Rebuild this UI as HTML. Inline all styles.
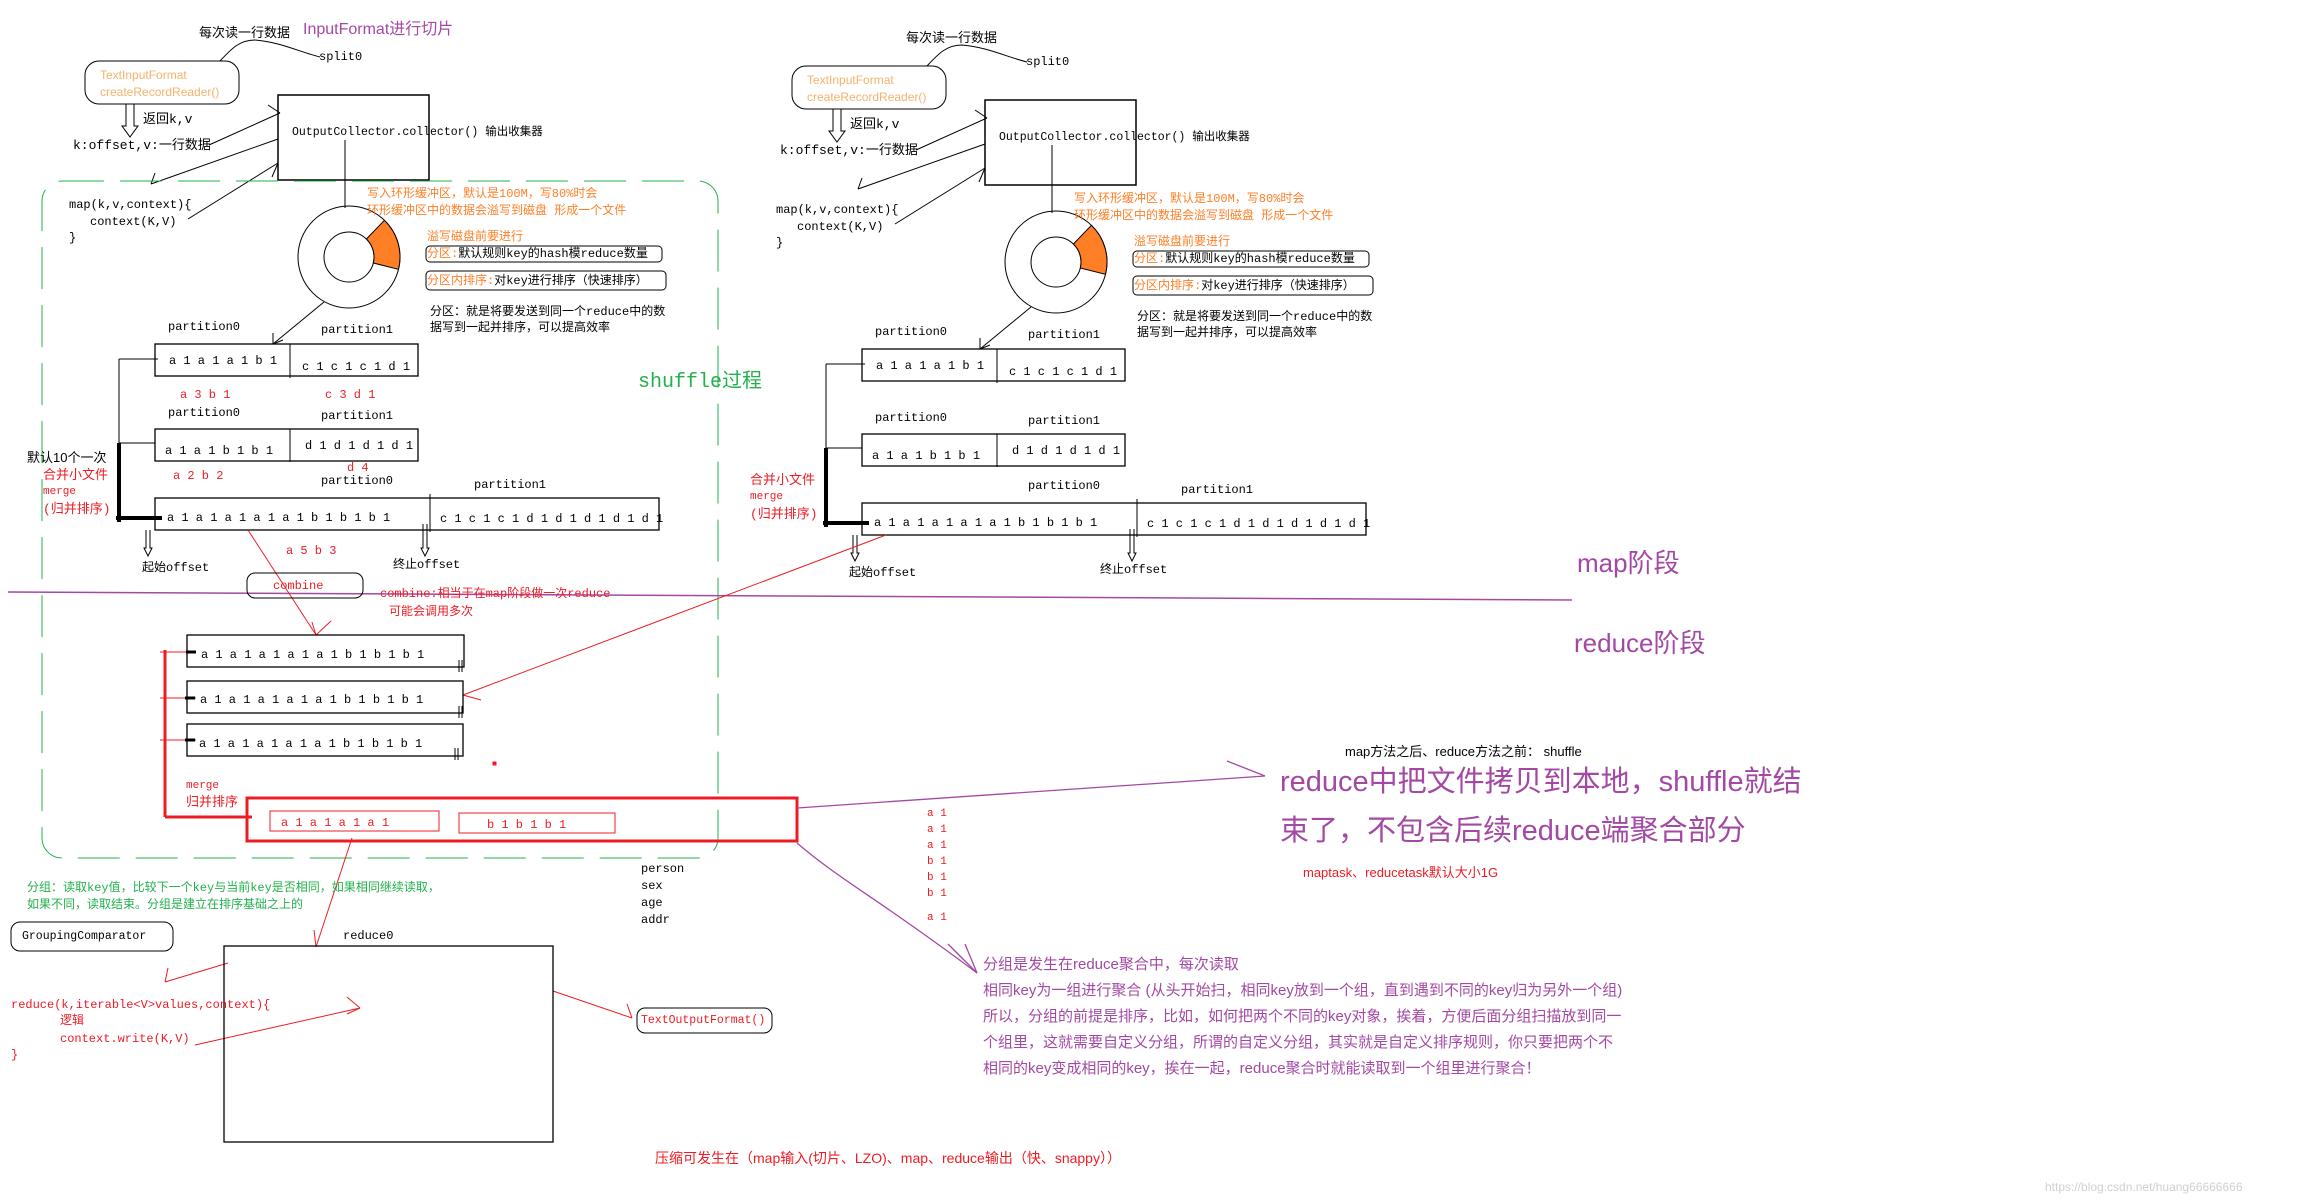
<!DOCTYPE html>
<html><head><meta charset="utf-8"><style>
body{margin:0;width:2310px;height:1200px;background:#fff;position:relative;overflow:hidden}
.t{position:absolute;white-space:nowrap;font:13px "Liberation Mono","Noto Sans CJK SC",monospace;line-height:1;color:#000}
.m{font-size:12px}
.r{color:#ed1c24}.o{color:#ff7f27}.p{color:#a349a4}.g{color:#22b14c}
.s{font-family:"Liberation Sans","Noto Sans CJK SC",sans-serif}
.cp{position:absolute;left:0;top:0;width:760px;height:600px}
svg{position:absolute;left:0;top:0}
</style></head><body>
<svg width="2310" height="1200" viewBox="0 0 2310 1200" fill="none" stroke="#000" stroke-width="1">
<defs>
<g id="sh">
<path d="M220 61 C232 48 240 40 255 40 C280 42 300 52 320 57"/>
<rect x="85" y="61" width="154" height="43" rx="14"/>
<path d="M126 104 V126 H122 L130 137 L138 126 H134 V104"/>
<line x1="209" y1="145" x2="280" y2="113"/><line x1="268" y1="105" x2="280" y2="113"/>
<line x1="278" y1="139" x2="151" y2="184"/><line x1="155" y1="173" x2="151" y2="184"/>
<line x1="188" y1="219" x2="278" y2="163"/><line x1="272" y1="177" x2="278" y2="163"/>
<rect x="278" y="95" width="151" height="85" stroke-width="1.5"/>
<line x1="345" y1="140" x2="345" y2="208"/>
<circle cx="349" cy="257" r="51"/><circle cx="349" cy="257" r="25"/>
<path d="M384.4 220.3 A51 51 0 0 1 398.5 269.3 L373.3 263 A25 25 0 0 0 366.4 239 Z" fill="#ff7f27"/>
<rect x="426" y="246" width="236" height="16" rx="4"/>
<rect x="426" y="271" width="240" height="19" rx="4"/>
<line x1="324" y1="302" x2="273" y2="344"/><line x1="273" y1="344" x2="273" y2="333"/><line x1="273" y1="344" x2="283" y2="340"/>
<rect x="155" y="344" width="263" height="32" stroke-width="1.3"/><line x1="290" y1="344" x2="290" y2="378"/>
<rect x="155" y="429" width="263" height="32" stroke-width="1.3"/><line x1="290" y1="429" x2="290" y2="462"/>
<rect x="155" y="498" width="504" height="32" stroke-width="1.3"/><line x1="430" y1="494" x2="430" y2="532"/>
<line x1="119" y1="359" x2="119" y2="445"/><line x1="119" y1="359" x2="158" y2="359"/><line x1="119" y1="443" x2="155" y2="443"/>
<line x1="119" y1="443" x2="119" y2="522" stroke-width="4"/><line x1="116" y1="518" x2="162" y2="518" stroke-width="4"/>
<path d="M146 530 V548 H144 L148 556 L152 548 H150 V530"/>
<path d="M423 524 V548 H421 L425 556 L429 548 H427 V524"/>
</g>
</defs>
<use href="#sh"/>
<use href="#sh" transform="translate(707,5)"/>
<rect x="42" y="181" width="676" height="677" rx="20" stroke="#22b14c" stroke-dasharray="42 16"/>
<line x1="8" y1="592" x2="1572" y2="600" stroke="#a349a4" stroke-width="1.5"/>
<g stroke="#ed1c24">
<line x1="248" y1="530" x2="316" y2="635"/><line x1="316" y1="635" x2="331" y2="621"/><line x1="316" y1="635" x2="312" y2="622"/>
<line x1="886" y1="535" x2="463" y2="695"/><line x1="463" y1="695" x2="481" y2="700"/>
<line x1="165" y1="650" x2="165" y2="817" stroke-width="3"/>
<line x1="160" y1="652" x2="196" y2="652"/><line x1="160" y1="698" x2="196" y2="698"/><line x1="160" y1="740" x2="196" y2="740"/>
<line x1="165" y1="817" x2="252" y2="817" stroke-width="3"/>
<rect x="247" y="798" width="550" height="43" stroke-width="3"/>
<rect x="270" y="811" width="169" height="20"/><rect x="459" y="813" width="156" height="20"/>
<line x1="352" y1="838" x2="316" y2="947"/><line x1="316" y1="947" x2="314" y2="930"/>
<line x1="228" y1="963" x2="165" y2="982"/><line x1="165" y1="982" x2="168" y2="968"/>
<line x1="195" y1="1045" x2="360" y2="1008"/><line x1="360" y1="1008" x2="347" y2="997"/><line x1="360" y1="1008" x2="347" y2="1014"/>
<line x1="553" y1="991" x2="632" y2="1018"/><line x1="632" y1="1018" x2="627" y2="1004"/>
<rect x="493" y="762" width="3" height="3" fill="#ed1c24"/>
</g>
<rect x="187" y="635" width="277" height="32" stroke-width="1.3"/>
<rect x="187" y="681" width="276" height="32" stroke-width="1.3"/>
<rect x="187" y="724" width="276" height="32" stroke-width="1.3"/>
<g stroke-width="3"><line x1="186" y1="652" x2="196" y2="652"/><line x1="185" y1="698" x2="195" y2="698"/><line x1="185" y1="740" x2="195" y2="740"/></g>
<path d="M459 660 V672 M462 660 V672 M459 706 V718 M462 706 V718 M455 748 V760 M458 748 V760"/>
<rect x="247" y="573" width="116" height="25" rx="8"/>
<rect x="11" y="922" width="162" height="29" rx="9"/>
<rect x="224" y="946" width="329" height="196" stroke-width="1.3"/>
<rect x="637" y="1008" width="135" height="25" rx="8"/>
<g stroke="#a349a4" stroke-width="1.3">
<line x1="797" y1="808" x2="1265" y2="776"/><line x1="1227" y1="761" x2="1265" y2="776"/>
<path d="M797 843 C840 880 880 900 977 973"/><line x1="948" y1="944" x2="977" y2="973"/><line x1="965" y1="944" x2="977" y2="973"/>
</g>
</svg>

<div class="cp">
<div class="t s" style="left:199px;top:26px">每次读一行数据</div>
<div class="t m" style="left:319px;top:51px">split0</div>
<div class="t s m" style="left:100px;top:69px;color:#f5b26b">TextInputFormat</div>
<div class="t s m" style="left:100px;top:86px;color:#f5b26b">createRecordReader()</div>
<div class="t" style="left:143px;top:113px">返回k,v</div>
<div class="t" style="left:73px;top:139px">k:offset,v:一行数据</div>
<div class="t" style="left:292px;top:127px;font-size:11.5px">OutputCollector.collector()  输出收集器</div>
<div class="t m" style="left:69px;top:199px">map(k,v,context){</div>
<div class="t m" style="left:90px;top:216px">context(K,V)</div>
<div class="t m" style="left:69px;top:232px">}</div>
<div class="t o m" style="left:367px;top:188px">写入环形缓冲区，默认是100M，写80%时会</div>
<div class="t o m" style="left:367px;top:205px">环形缓冲区中的数据会溢写到磁盘 形成一个文件</div>
<div class="t o m" style="left:427px;top:231px">溢写磁盘前要进行</div>
<div class="t m" style="left:427px;top:248px"><span class="o">分区:</span>默认规则key的hash模reduce数量</div>
<div class="t m" style="left:427px;top:275px"><span class="o">分区内排序:</span>对key进行排序（快速排序）</div>
<div class="t m" style="left:430px;top:306px">分区：就是将要发送到同一个reduce中的数</div>
<div class="t m" style="left:430px;top:322px">据写到一起并排序，可以提高效率</div>
<div class="t m" style="left:168px;top:321px">partition0</div>
<div class="t m" style="left:321px;top:324px">partition1</div>
<div class="t m" style="left:169px;top:355px">a 1 a 1 a 1 b 1</div>
<div class="t m" style="left:302px;top:361px">c 1 c 1 c 1 d 1</div>
<div class="t m" style="left:168px;top:407px">partition0</div>
<div class="t m" style="left:321px;top:410px">partition1</div>
<div class="t m" style="left:165px;top:445px">a 1 a 1 b 1 b 1</div>
<div class="t m" style="left:305px;top:440px">d 1 d 1 d 1 d 1</div>
<div class="t m" style="left:321px;top:475px">partition0</div>
<div class="t m" style="left:474px;top:479px">partition1</div>
<div class="t m" style="left:167px;top:512px">a 1 a 1 a 1 a 1 a 1 b 1 b 1 b 1</div>
<div class="t m" style="left:440px;top:513px">c 1 c 1 c 1 d 1 d 1 d 1 d 1 d 1</div>
<div class="t r" style="left:43px;top:469px">合并小文件</div>
<div class="t r" style="left:43px;top:487px;font-size:11px">merge</div>
<div class="t r" style="left:43px;top:503px">(归并排序)</div>
<div class="t m" style="left:142px;top:562px">起始offset</div>
<div class="t m" style="left:393px;top:559px">终止offset</div>
</div>
<div class="cp" style="left:707px;top:5px">
<div class="t s" style="left:199px;top:26px">每次读一行数据</div>
<div class="t m" style="left:319px;top:51px">split0</div>
<div class="t s m" style="left:100px;top:69px;color:#f5b26b">TextInputFormat</div>
<div class="t s m" style="left:100px;top:86px;color:#f5b26b">createRecordReader()</div>
<div class="t" style="left:143px;top:113px">返回k,v</div>
<div class="t" style="left:73px;top:139px">k:offset,v:一行数据</div>
<div class="t" style="left:292px;top:127px;font-size:11.5px">OutputCollector.collector()  输出收集器</div>
<div class="t m" style="left:69px;top:199px">map(k,v,context){</div>
<div class="t m" style="left:90px;top:216px">context(K,V)</div>
<div class="t m" style="left:69px;top:232px">}</div>
<div class="t o m" style="left:367px;top:188px">写入环形缓冲区，默认是100M，写80%时会</div>
<div class="t o m" style="left:367px;top:205px">环形缓冲区中的数据会溢写到磁盘 形成一个文件</div>
<div class="t o m" style="left:427px;top:231px">溢写磁盘前要进行</div>
<div class="t m" style="left:427px;top:248px"><span class="o">分区:</span>默认规则key的hash模reduce数量</div>
<div class="t m" style="left:427px;top:275px"><span class="o">分区内排序:</span>对key进行排序（快速排序）</div>
<div class="t m" style="left:430px;top:306px">分区：就是将要发送到同一个reduce中的数</div>
<div class="t m" style="left:430px;top:322px">据写到一起并排序，可以提高效率</div>
<div class="t m" style="left:168px;top:321px">partition0</div>
<div class="t m" style="left:321px;top:324px">partition1</div>
<div class="t m" style="left:169px;top:355px">a 1 a 1 a 1 b 1</div>
<div class="t m" style="left:302px;top:361px">c 1 c 1 c 1 d 1</div>
<div class="t m" style="left:168px;top:407px">partition0</div>
<div class="t m" style="left:321px;top:410px">partition1</div>
<div class="t m" style="left:165px;top:445px">a 1 a 1 b 1 b 1</div>
<div class="t m" style="left:305px;top:440px">d 1 d 1 d 1 d 1</div>
<div class="t m" style="left:321px;top:475px">partition0</div>
<div class="t m" style="left:474px;top:479px">partition1</div>
<div class="t m" style="left:167px;top:512px">a 1 a 1 a 1 a 1 a 1 b 1 b 1 b 1</div>
<div class="t m" style="left:440px;top:513px">c 1 c 1 c 1 d 1 d 1 d 1 d 1 d 1</div>
<div class="t r" style="left:43px;top:469px">合并小文件</div>
<div class="t r" style="left:43px;top:487px;font-size:11px">merge</div>
<div class="t r" style="left:43px;top:503px">(归并排序)</div>
<div class="t m" style="left:142px;top:562px">起始offset</div>
<div class="t m" style="left:393px;top:559px">终止offset</div>
</div>

<div class="t s p" style="left:303px;top:22px;font-size:16px">InputFormat进行切片</div>
<div class="t r m" style="left:180px;top:389px">a 3 b 1</div>
<div class="t r m" style="left:325px;top:389px">c 3 d 1</div>
<div class="t r m" style="left:173px;top:470px">a 2 b 2</div>
<div class="t r m" style="left:347px;top:462px">d 4</div>
<div class="t s" style="left:27px;top:451px">默认10个一次</div>
<div class="t r m" style="left:286px;top:545px">a 5 b 3</div>
<div class="t r m" style="left:273px;top:580px">combine</div>
<div class="t r m" style="left:380px;top:588px">combine:相当于在map阶段做一次reduce</div>
<div class="t r m" style="left:389px;top:606px">可能会调用多次</div>
<div class="t g" style="left:638px;top:373px;font-size:20px">shuffle过程</div>

<div class="t m" style="left:201px;top:649px">a 1 a 1 a 1 a 1 a 1 b 1 b 1 b 1</div>
<div class="t m" style="left:200px;top:694px">a 1 a 1 a 1 a 1 a 1 b 1 b 1 b 1</div>
<div class="t m" style="left:199px;top:738px">a 1 a 1 a 1 a 1 a 1 b 1 b 1 b 1</div>
<div class="t r" style="left:186px;top:781px;font-size:11px">merge</div>
<div class="t r" style="left:186px;top:796px">归并排序</div>
<div class="t r m" style="left:281px;top:817px">a 1 a 1 a 1 a 1</div>
<div class="t r m" style="left:487px;top:819px">b 1 b 1 b 1</div>
<div class="t g m" style="left:27px;top:882px">分组：读取key值，比较下一个key与当前key是否相同，如果相同继续读取，</div>
<div class="t g m" style="left:27px;top:899px">如果不同，读取结束。分组是建立在排序基础之上的</div>
<div class="t m" style="left:22px;top:931px;font-size:11.5px">GroupingComparator</div>
<div class="t m" style="left:343px;top:930px">reduce0</div>
<div class="t r m" style="left:11px;top:999px">reduce(k,iterable&lt;V&gt;values,context){</div>
<div class="t r m" style="left:60px;top:1015px">逻辑</div>
<div class="t r m" style="left:60px;top:1033px">context.write(K,V)</div>
<div class="t r m" style="left:11px;top:1049px">}</div>
<div class="t r m" style="left:641px;top:1015px;font-size:11.5px">TextOutputFormat()</div>
<div class="t m" style="left:641px;top:863px">person</div>
<div class="t m" style="left:641px;top:880px">sex</div>
<div class="t m" style="left:641px;top:897px">age</div>
<div class="t m" style="left:641px;top:914px">addr</div>
<div class="t s r" style="left:655px;top:1151px;font-size:14px">压缩可发生在（map输入(切片、LZO)、map、reduce输出（快、snappy））</div>
<div class="t s p" style="left:1577px;top:550px;font-size:26px">map阶段</div>
<div class="t s p" style="left:1574px;top:630px;font-size:26px">reduce阶段</div>
<div class="t s" style="left:1345px;top:745px">map方法之后、reduce方法之前： shuffle</div>
<div class="t s p" style="left:1280px;top:768px;font-size:29px">reduce中把文件拷贝到本地，shuffle就结</div>
<div class="t s p" style="left:1280px;top:817px;font-size:29px">束了，不包含后续reduce端聚合部分</div>
<div class="t s r" style="left:1303px;top:866px">maptask、reducetask默认大小1G</div>
<div class="t r" style="left:927px;top:809px;font-size:11px">a 1</div>
<div class="t r" style="left:927px;top:825px;font-size:11px">a 1</div>
<div class="t r" style="left:927px;top:841px;font-size:11px">a 1</div>
<div class="t r" style="left:927px;top:857px;font-size:11px">b 1</div>
<div class="t r" style="left:927px;top:873px;font-size:11px">b 1</div>
<div class="t r" style="left:927px;top:889px;font-size:11px">b 1</div>
<div class="t r" style="left:927px;top:913px;font-size:11px">a 1</div>
<div class="t s p" style="left:983px;top:957px;font-size:15px">分组是发生在reduce聚合中，每次读取</div>
<div class="t s p" style="left:983px;top:983px;font-size:15px">相同key为一组进行聚合 (从头开始扫，相同key放到一个组，直到遇到不同的key归为另外一个组)</div>
<div class="t s p" style="left:983px;top:1009px;font-size:15px">所以，分组的前提是排序，比如，如何把两个不同的key对象，挨着，方便后面分组扫描放到同一</div>
<div class="t s p" style="left:983px;top:1035px;font-size:15px">个组里，这就需要自定义分组，所谓的自定义分组，其实就是自定义排序规则，你只要把两个不</div>
<div class="t s p" style="left:983px;top:1061px;font-size:15px">相同的key变成相同的key，挨在一起，reduce聚合时就能读取到一个组里进行聚合！</div>
<div class="t s" style="left:2045px;top:1181px;font-size:12px;color:#d0d0d0">https://blog.csdn.net/huang66666666</div>
</body></html>
